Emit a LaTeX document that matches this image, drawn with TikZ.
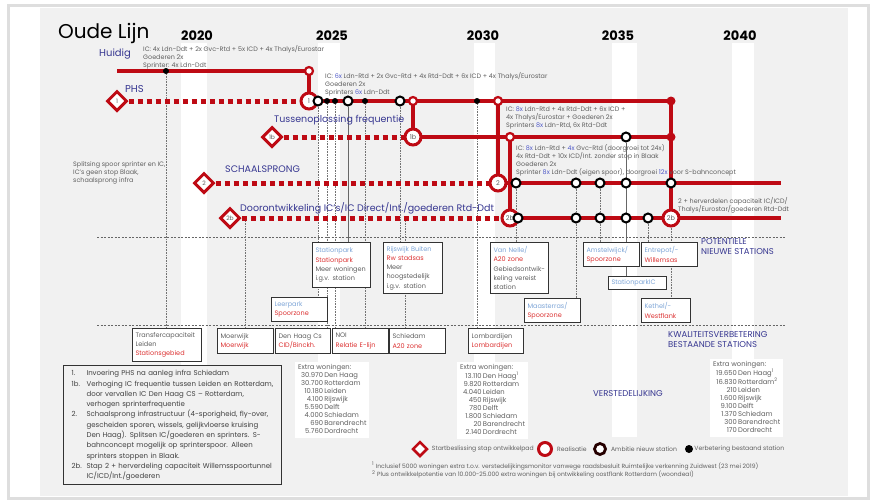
\documentclass[tikz,border=0pt]{standalone}
\usepackage{fontspec}
\setmainfont{Poppins}
\newfontfamily\kopfont{Poppins}
\usetikzlibrary{shapes.geometric, positioning}
\definecolor{lijnrood}{RGB}{190,10,20}
\definecolor{kopblauw}{RGB}{55,55,145}
\definecolor{lichtblauw}{RGB}{125,165,215}
\definecolor{tekstrood}{RGB}{220,50,50}
\definecolor{tekstgrijs}{RGB}{95,95,95}
\definecolor{aantalblauw}{RGB}{80,90,200}
\definecolor{paneel}{RGB}{241,241,241}
\newcommand\nieuw[1]{\textcolor{lichtblauw}{#1}}
\newcommand\rood[1]{\textcolor{tekstrood}{#1}}
\newcommand\aantal[1]{\textcolor{aantalblauw}{#1}}
\pgfdeclarelayer{bg}
\pgfdeclarelayer{links}
\pgfdeclarelayer{rails}
\pgfsetlayers{bg,links,rails,main}
\tikzset{
  x=1pt, y=-1pt,
  rail/.style={draw=lijnrood, line width=4.5pt},
  railplan/.style={draw=lijnrood, line width=5pt, dash pattern=on 5pt off 4pt},
  link/.style={draw=black!55, line width=0.6pt, densely dotted},
  linkvast/.style={draw=black!60, line width=0.6pt},
  scheiding/.style={draw=black!60, line width=0.6pt, dash pattern=on 2pt off 1.5pt},
  start/.style={diamond, draw=lijnrood, fill=white, line width=3pt, minimum size=20pt,
    inner sep=0pt, font=\fontsize{6}{7}\selectfont, text=tekstgrijs},
  real/.style={circle, draw=lijnrood, fill=white, line width=3pt, minimum size=16pt,
    inner sep=0pt, font=\fontsize{6.5}{7}\selectfont, text=tekstgrijs},
  knoop/.style={circle, draw=lijnrood, fill=white, line width=2.2pt, minimum size=8pt, inner sep=0pt},
  knoopvol/.style={circle, fill=lijnrood, minimum size=9pt, inner sep=0pt},
  ambitie/.style={circle, draw=black, fill=white, line width=2pt, minimum size=9pt, inner sep=0pt},
  bestaand/.style={circle, fill=black, minimum size=6pt, inner sep=0pt},
  stbox/.style={draw=black!80, fill=white, line width=1.1pt, anchor=north west, align=left,
    inner xsep=3pt, inner ysep=1.5pt, font=\fontsize{6.5}{9.3}\selectfont, text=tekstgrijs},
  woning/.style={fill=white, anchor=north west, inner xsep=3pt, inner ysep=2pt,
    font=\fontsize{6.8}{8}\selectfont, text=tekstgrijs},
  kop/.style={font=\kopfont\fontsize{9.5}{10}\selectfont, text=kopblauw, anchor=west, inner sep=0pt},
  sectie/.style={font=\kopfont\fontsize{8.5}{10.5}\selectfont, text=kopblauw, align=left, inner sep=0pt},
  info/.style={font=\fontsize{6.4}{8}\selectfont, text=tekstgrijs, align=left, anchor=north west, inner sep=0pt},
  legtekst/.style={font=\fontsize{6.1}{8}\selectfont, text=tekstgrijs, inner sep=0pt},
  jaar/.style={font=\kopfont\bfseries\fontsize{13}{13}\selectfont},
}
\begin{document}
\begin{tikzpicture}
\useasboundingbox (0,0) rectangle (875,501);
\begin{pgfonlayer}{bg}
  \fill[white] (0,0) rectangle (875,501);
  \draw[black!13, line width=3pt] (8,5) rectangle (868,498);
  \fill[paneel] (40,8) rectangle (848,496);
  \foreach \a/\b in {181/207, 318/340, 474/495, 612/637, 732/754}
    \fill[white] (\a,43) rectangle (\b,437);
  \draw[scheiding] (97,237) -- (785,237);
  \draw[scheiding] (97,325) -- (785,325);
\end{pgfonlayer}

\node[font=\kopfont\fontsize{20}{20}\selectfont, anchor=base west, inner sep=0pt] (titel) at (58,38) {Oude Lijn};
\foreach \j/\x in {2020/197, 2025/332, 2030/483, 2035/618, 2040/740}
  \node[jaar] (y\j) at (\x,35.5) {\j};

\node[kop, font=\kopfont\fontsize{10}{10}\selectfont] (huidig) at (99,54) {Huidig};
\node[kop, font=\kopfont\fontsize{10}{10}\selectfont] (phs) at (125,89) {PHS};
\node[kop] (tussen) at (274,120) {Tussenoplossing frequentie};
\node[kop] (schaal) at (225,169) {SCHAALSPRONG};
\node[kop] (door) at (240,208) {Doorontwikkeling IC’s/IC Direct/Int./goederen Rtd-Ddt};
\node[sectie, anchor=north west] (potent) at (701,238) {POTENTIELE\\NIEUWE STATIONS};
\node[sectie, anchor=north west] (kwal) at (668,331) {KWALITEITSVERBETERING\\BESTAANDE STATIONS};
\node[sectie, anchor=east] (verst) at (663,394) {VERSTEDELIJKING};

\node[info] (txthuidig) at (143,45) {IC: 4x Ldn-Ddt + 2x Gvc-Rtd + 5x ICD + 4x Thalys/Eurostar\\Goederen 2x\\Sprinter: 4x Ldn-Ddt};
\node[info] (txtphs) at (325,72) {IC: \aantal{6x} Ldn-Rtd + 2x Gvc-Rtd + 4x Rtd-Ddt + 6x ICD + 4x Thalys/Eurostar\\Goederen 2x\\Sprinters \aantal{6x} Ldn-Ddt};
\node[info] (txt1b) at (506,107) {IC: \aantal{8x} Ldn-Rtd + 4x Rtd-Ddt + 6x ICD +\\4x Thalys/Eurostar + Goederen 2x\\Sprinters \aantal{8x} Ldn-Rtd, 6x Rtd-Ddt};
\node[info] (txt2) at (516,144) {IC: \aantal{8x} Ldn-Rtd + \aantal{4x} Gvc-Rtd (doorgroei tot 24x)\\4x Rtd-Ddt + 10x ICD/Int. zonder stop in Blaak\\Goederen 2x\\Sprinter \aantal{8x} Ldn-Ddt (eigen spoor), doorgroei \aantal{12x} voor S-bahnconcept};
\node[info] (txt2b) at (678,197) {2 + herverdelen capaciteit IC/ICD/\\Thalys/Eurostar/goederen Rtd-Ddt};
\node[info] (txtsplits) at (73,161) {Splitsing spoor sprinter en IC,\\IC’s geen stop Blaak,\\schaalsprong infra};

\node[start] (d1) at (117,101) {1};
\node[start] (d1b) at (272,137) {1b};
\node[start] (d2) at (204,183) {2};
\node[start] (d2b) at (230,218) {2b};
\node[real] (r1) at (309,101) {1};
\node[real] (r1b) at (413,137) {1b};
\node[real] (r2) at (498,183) {2};
\node[real] (r2b) at (510,218) {2b};
\node[real] (r2bb) at (671,218) {2b};
\node[knoop] (jh) at (309,71) {};
\node[knoop] (j1) at (413,101) {};
\node[knoop] (j2) at (498,101) {};
\node[knoop] (j2b) at (510,137) {};
\node[knoopvol] (k1) at (671,101) {};
\node[knoopvol] (k2) at (671,137) {};
\coordinate (h0) at (117,71);
\coordinate (e2) at (781,183);
\coordinate (e2b) at (781,218);
\coordinate (c245) at (245,218);
\coordinate (c405) at (405,218);
\foreach \n/\x/\y in {s1/318/101, s2/348/101, s3/400/101, s4/626/137, s5/516/183, s6/576/183,
    s7/600/183, s8/626/183, s9/671/183, s10/518/218, s11/576/218, s12/600/218, s13/626/218, s14/648/218}
  \node[ambitie] (\n) at (\x,\y) {};
\foreach \n/\x/\y in {b0/166/71, b1/327/101, b2/335/101, b3/365/101, b4/477/101}
  \node[bestaand] (\n) at (\x,\y) {};

\begin{pgfonlayer}{rails}
  \draw[rail] (h0) -- (jh.center) -- (r1.center);
  \draw[railplan] (d1) -- (r1);
  \draw[rail] (r1.center) -- (k1.center) -- (r2bb.center);
  \draw[rail] (j1.center) -- (r1b.center);
  \draw[railplan] (d1b) -- (r1b);
  \draw[rail] (r1b.center) -- (k2.center);
  \draw[rail] (j2.center) -- (r2.center);
  \draw[railplan] (d2) -- (r2);
  \draw[rail] (r2.center) -- (e2);
  \draw[rail] (j2b.center) -- (r2b.center);
  \draw[railplan] (d2b) -- (r2b);
  \draw[rail] (r2b.center) -- (e2b);
\end{pgfonlayer}

\node[stbox, text width=52pt, minimum height=45pt] (stpark) at (312,242) {\nieuw{Stationpark}\\\rood{Stationpark}\\Meer woningen\\i.g.v. station};
\node[stbox, text width=53pt, minimum height=51pt] (rijswijk) at (383,242) {\nieuw{Rijswijk Buiten}\\\rood{Rw stadsas}\\Meer\\hoogstedelijk\\i.g.v. station};
\node[stbox, text width=50pt, minimum height=24pt] (leerpark) at (271,297) {\nieuw{Leerpark}\\\rood{Spoorzone}};
\node[stbox, text width=52pt, minimum height=51pt] (vannelle) at (490,242) {\nieuw{Van Nelle/}\\\rood{A20 zone}\\Gebiedsontwik-\\keling vereist\\station};
\node[stbox, text width=50pt, minimum height=24pt] (maas) at (524,298) {\nieuw{Maasterras/}\\\rood{Spoorzone}};
\node[stbox, text width=50pt, minimum height=24pt] (amstel) at (583,242) {\nieuw{Amstelwijck/}\\\rood{Spoorzone}};
\node[stbox, text width=50pt, minimum height=24pt] (entrepot) at (641,242) {\nieuw{Entrepot/-}\\\rood{Willemsas}};
\node[stbox, text width=52pt, minimum height=13pt] (stparkic) at (608,276) {\nieuw{StationparkIC}};
\node[stbox, text width=43pt, minimum height=24pt] (kethel) at (641,298) {\nieuw{Kethel/-}\\\rood{Westflank}};
\node[stbox, text width=63pt, minimum height=33pt] (transfer) at (132,328) {Transfercapaciteit\\Leiden\\\rood{Stationsgebied}};
\node[stbox, text width=50pt, minimum height=25pt] (moerwijk) at (217,328) {Moerwijk\\\rood{Moerwijk}};
\node[stbox, text width=49pt, minimum height=25pt] (denhaag) at (275,328) {Den Haag Cs\\\rood{CID/Binckh.}};
\node[stbox, text width=50pt, minimum height=25pt] (noi) at (332,328) {NOI\\\rood{Relatie E-lijn}};
\node[stbox, text width=50pt, minimum height=25pt] (schiedam) at (389,328) {Schiedam\\\rood{A20 zone}};
\node[stbox, text width=49pt, minimum height=25pt] (lombard) at (468,328) {Lombardijen\\\rood{Lombardijen}};

\begin{pgfonlayer}{links}
  \draw[link] (b0) -- (b0 |- transfer.north);
  \draw[link] (c245) -- (c245 |- moerwijk.north);
  \draw[link] (s1) -- (s1 |- leerpark.north);
  \draw[link] (b1) -- (b1 |- denhaag.north);
  \draw[link] (b2) -- (b2 |- noi.north);
  \draw[linkvast] (s2) -- (s2 |- stpark.north);
  \draw[link] (b3) -- (b3 |- noi.north);
  \draw[link] (s3) -- (s3 |- rijswijk.north);
  \draw[link] (c405) -- (c405 |- schiedam.north);
  \draw[link] (b4) -- (b4 |- lombard.north);
  \draw[link] (s5) -- (s5 |- vannelle.north);
  \draw[link] (s6) -- (s6 |- maas.north);
  \draw[link] (s7) -- (s7 |- amstel.north);
  \draw[linkvast] (s4) -- (s4 |- stparkic.north);
  \draw[link] (s14) -- (s14 |- entrepot.north);
  \draw[link] (r2bb) -- (r2bb |- kethel.north);
\end{pgfonlayer}

\node[woning] (won1) at (295,362) {\begin{tabular}{@{\hspace{3pt}}r@{\,}l@{}}
  \multicolumn{2}{@{}l@{}}{Extra woningen:}\\
  30.970 & Den Haag\\ 30.700 & Rotterdam\\ 10.180 & Leiden\\ 4.100 & Rijswijk\\
  5.590 & Delft\\ 4.000 & Schiedam\\ 690 & Barendrecht\\ 5.760 & Dordrecht\end{tabular}};
\node[woning] (won2) at (457,362) {\begin{tabular}{@{\hspace{3pt}}r@{\,}l@{}}
  \multicolumn{2}{@{}l@{}}{Extra woningen:}\\
  13.110 & Den Haag\textsuperscript{1}\\ 9.820 & Rotterdam\\ 4.040 & Leiden\\ 450 & Rijswijk\\
  780 & Delft\\ 1.800 & Schiedam\\ 20 & Barendrecht\\ 2.140 & Dordrecht\end{tabular}};
\node[woning] (won3) at (710,359) {\begin{tabular}{@{\hspace{3pt}}r@{\,}l@{}}
  \multicolumn{2}{@{}l@{}}{Extra woningen:}\\
  19.650 & Den Haag\textsuperscript{1}\\ 16.830 & Rotterdam\textsuperscript{2}\\ 210 & Leiden\\ 1.600 & Rijswijk\\
  9.100 & Delft\\ 1.370 & Schiedam\\ 300 & Barendrecht\\ 170 & Dordrecht\end{tabular}};

\node[draw=black!80, line width=1.1pt, fill=paneel, anchor=north west, inner xsep=8pt, inner ysep=3pt,
  text width=202pt, minimum height=119pt, align=left, text=black!75,
  font=\fontsize{7}{10.3}\selectfont] (uitleg) at (63,365) {\begin{tabular}{@{}p{15pt}@{}l@{}}
  1. & Invoering PHS na aanleg infra Schiedam\\
  1b. & Verhoging IC frequentie tussen Leiden en Rotterdam,\\
   & door vervallen IC Den Haag CS -- Rotterdam,\\
   & verhogen sprinterfrequentie\\
  2. & Schaalsprong infrastructuur (4-sporigheid, fly-over,\\
   & gescheiden sporen, wissels, gelijkvloerse kruising\\
   & Den Haag). Splitsen IC/goederen en sprinters. S-\\
   & bahnconcept mogelijk op sprinterspoor. Alleen\\
   & sprinters stoppen in Blaak.\\
  2b. & Stap 2 + herverdeling capaciteit Willemsspoortunnel\\
   & IC/ICD/Int./goederen\end{tabular}};

\node[start, minimum size=15pt, line width=2.5pt] (legstart) at (420,449) {};
\node[legtekst, right=3pt of legstart] (legstarttxt) {Startbeslissing stap ontwikkelpad};
\node[real, minimum size=13pt] (legreal) at (545,449) {};
\node[legtekst, right=4pt of legreal] (legrealtxt) {Realisatie};
\node[ambitie, minimum size=11pt, line width=2.8pt, draw=black!85!red] (legamb) at (600,449) {};
\node[legtekst, right=4pt of legamb] (legambtxt) {Ambitie nieuw station};
\node[bestaand, minimum size=8pt] (legbest) at (689,449) {};
\node[legtekst, right=1pt of legbest] (legbesttxt) {Verbetering bestaand station};

\node[info, font=\fontsize{6}{8.5}\selectfont] (voetnoot) at (372,462) {\textsuperscript{1} Inclusief 5000 woningen extra t.o.v. verstedelijkingsmonitor vanwege raadsbesluit Ruimtelijke verkenning Zuidwest (23 mei 2019)\\\textsuperscript{2} Plus ontwikkelpotentie van 10.000-25.000 extra woningen bij ontwikkeling oostflank Rotterdam (woondeal)};
\end{tikzpicture}
\end{document}
